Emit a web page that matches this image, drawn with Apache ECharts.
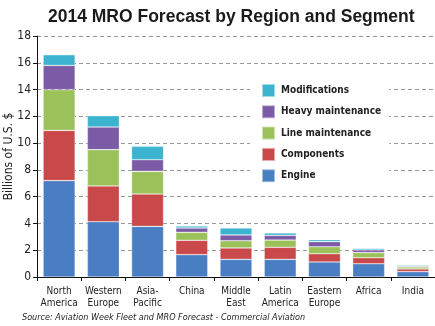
<!DOCTYPE html>
<html><head><meta charset="utf-8">
<script src="https://cdn.jsdelivr.net/npm/echarts@6/dist/echarts.min.js"></script>
<style>html,body{margin:0;padding:0;background:#fff}#c{width:435px;height:326px}</style>
</head><body><div id="c"></div>
<script>
const categories = ['North\nAmerica','Western\nEurope','Asia-\nPacific','China','Middle\nEast','Latin\nAmerica','Eastern\nEurope','Africa','India'];
const engine        = [7.2, 4.13, 3.78, 1.67, 1.32, 1.32, 1.12, 0.99, 0.40];
const components    = [3.75, 2.67, 2.42, 1.07, 0.85, 0.90, 0.62, 0.45, 0.20];
const lineMaint     = [3.04, 2.71, 1.69, 0.60, 0.54, 0.54, 0.52, 0.38, 0.15];
const heavyMaint    = [1.81, 1.69, 0.87, 0.32, 0.43, 0.35, 0.38, 0.20, 0.07];
const modifications = [0.80, 0.85, 1.00, 0.15, 0.52, 0.18, 0.15, 0.12, 0.08];
const yTicks = [0,2,4,6,8,10,12,14,16,18];

const NARROW = '"Liberation Sans Narrow","DejaVu Sans Condensed","Liberation Sans",Arial,sans-serif';
const mk = (name, data, color) => ({
  name, type:'bar', stack:'total', data, barWidth:32,
  itemStyle:{color, borderColor:'rgba(255,255,255,0.5)', borderWidth:0.6},
  emphasis:{disabled:true}
});
const chart = echarts.init(document.getElementById('c'), null, {renderer:'canvas'});
chart.setOption({
  animation:false,
  backgroundColor:'#fff',
  title:{text:'2014 MRO Forecast by Region and Segment', left:43, top:3,
    textStyle:{fontFamily:'"Liberation Sans",Arial,sans-serif', fontWeight:'bold', fontSize:17.5, color:'#1a1a1a'}},
  graphic:[{type:'text', left:22, top:313,
    style:{text:'Source: Aviation Week Fleet and MRO Forecast - Commercial Aviation', fill:'#222',
      font:'italic 9px '+NARROW}}],
  legend:{orient:'vertical', left:250, top:80, padding:[3,8,5,11], backgroundColor:'#fff', z:10,
    itemWidth:13, itemHeight:13, itemGap:6.3, icon:'rect',
    data:['Modifications','Heavy maintenance','Line maintenance','Components','Engine'],
    textStyle:{fontFamily:NARROW, fontWeight:'bold', fontSize:10, lineHeight:13, color:'#222', padding:[0,0,0,1]}},
  grid:{left:37, right:0, top:36, bottom:49, containLabel:false, outerBoundsMode:'none'},
  xAxis:{type:'category', data:categories,
    axisLine:{lineStyle:{color:'#111', width:1}},
    axisTick:{show:true, length:4, lineStyle:{color:'#111'}},
    axisLabel:{fontFamily:NARROW, fontSize:10, color:'#222', lineHeight:11.5, margin:9, interval:0}},
  yAxis:{type:'value', min:0, max:18, interval:2,
    name:'Billions of U.S. $', nameLocation:'middle', nameGap:22, nameRotate:90, nameMoveOverlap:false,
    nameTextStyle:{fontFamily:NARROW, fontSize:12, color:'#222'},
    axisLine:{show:true, lineStyle:{color:'#111', width:1}},
    axisTick:{show:true, length:4, lineStyle:{color:'#111'}},
    axisLabel:{fontFamily:NARROW, fontSize:12, color:'#222', margin:6,
      formatter:v => yTicks.includes(v) ? String(v) : ''},
    splitLine:{show:true, lineStyle:{color:'#999', type:[4,3], width:1}}},
  series:[
    mk('Engine', engine, '#4a7ec2'),
    mk('Components', components, '#c9494a'),
    mk('Line maintenance', lineMaint, '#9bc25a'),
    mk('Heavy maintenance', heavyMaint, '#7b5aa6'),
    mk('Modifications', modifications, '#3db4cf')
  ]
});
</script></body></html>
